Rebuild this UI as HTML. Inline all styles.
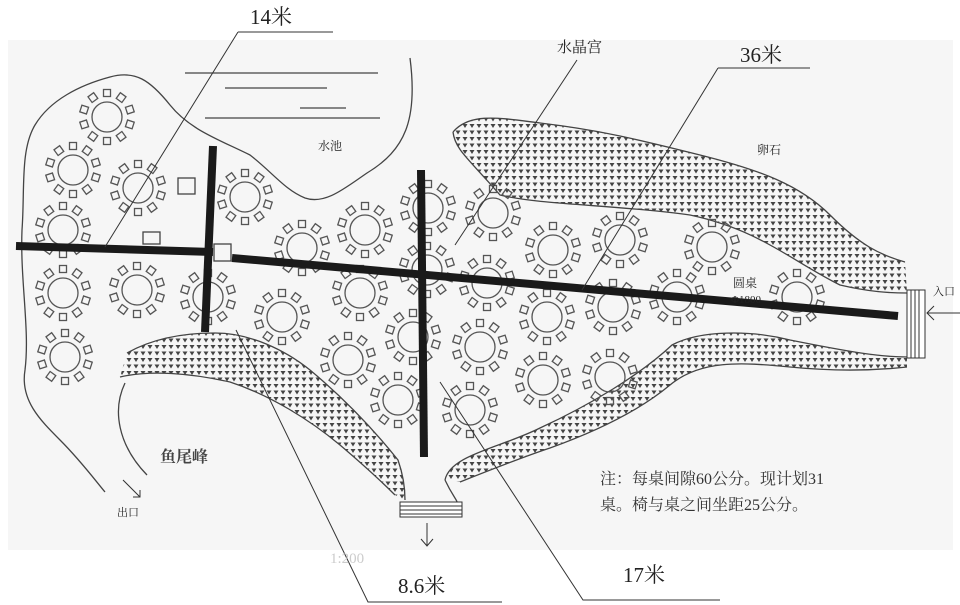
<!DOCTYPE html>
<html><head><meta charset="utf-8"><style>
html,body{margin:0;padding:0;background:#fff;}
svg{display:block;font-family:"Liberation Serif","Noto Serif CJK SC","Noto Sans CJK SC",serif;}
</style></head><body>
<svg width="960" height="605" viewBox="0 0 960 605" xmlns="http://www.w3.org/2000/svg" xmlns:xlink="http://www.w3.org/1999/xlink">
<defs>
<pattern id="dots" width="7" height="6.5" patternUnits="userSpaceOnUse">
<path d="M0.5,0.5 L5.5,0.5 L3,4.5 Z" fill="#444"/>
</pattern>
<g id="t" fill="none" stroke="#555" stroke-width="1.3">
<circle cx="0" cy="0" r="15"/>
<rect x="-3.5" y="20.5" width="7" height="7"/>
<rect x="-3.5" y="20.5" width="7" height="7" transform="rotate(36)"/>
<rect x="-3.5" y="20.5" width="7" height="7" transform="rotate(72)"/>
<rect x="-3.5" y="20.5" width="7" height="7" transform="rotate(108)"/>
<rect x="-3.5" y="20.5" width="7" height="7" transform="rotate(144)"/>
<rect x="-3.5" y="20.5" width="7" height="7" transform="rotate(180)"/>
<rect x="-3.5" y="20.5" width="7" height="7" transform="rotate(216)"/>
<rect x="-3.5" y="20.5" width="7" height="7" transform="rotate(252)"/>
<rect x="-3.5" y="20.5" width="7" height="7" transform="rotate(288)"/>
<rect x="-3.5" y="20.5" width="7" height="7" transform="rotate(324)"/>
</g>
</defs>
<rect x="8" y="40" width="945" height="510" fill="#f6f6f6"/>
<g fill="url(#dots)" stroke="none">
<path d="M453,132 C470,112 500,118 540,123 C600,130 640,140 700,155 C760,170 800,185 830,215 C860,245 880,255 905,262 L907,293 C890,293 870,292 840,285 C790,260 760,230 690,215 C620,205 540,205 500,195 C470,160 455,150 453,132 Z"/>
<path d="M445,480 C450,455 500,448 540,428 C590,405 640,375 672,345 C700,330 750,330 790,340 C850,352 880,357 907,357 L907,367 C880,370 840,372 790,367 C740,362 700,360 670,385 C640,410 600,430 550,448 C520,458 490,470 460,482 Z"/>
<path d="M127,353 C150,340 180,333 215,333 C250,333 285,350 310,370 C340,395 370,425 398,460 C405,480 405,495 405,500 L395,495 C380,480 360,462 340,445 C310,420 270,395 230,382 C190,373 150,370 120,377 Z"/>
</g>
<g fill="none" stroke="#444" stroke-width="1.3">
<path d="M410,58 C418,120 405,150 367,173 C345,188 325,205 305,198 C285,190 272,172 250,155 C220,140 190,130 170,105 C150,80 135,70 110,77 C80,85 50,100 35,125 C20,150 25,190 22,230 C20,280 30,330 25,370 C20,400 40,420 60,440 C80,460 95,480 105,492"/>
<path d="M125,383 C112,410 118,445 147,475"/>
<path d="M453,132 C470,112 500,118 540,123 C600,130 640,140 700,155 C760,170 800,185 830,215 C860,245 880,255 905,262"/>
<path d="M453,132 C455,150 470,160 500,195 C540,205 620,205 690,215 C760,230 790,260 840,285 C870,292 890,293 907,293"/>
<path d="M445,480 C450,455 500,448 540,428 C590,405 640,375 672,345 C700,330 750,330 790,340 C850,352 880,357 907,357"/>
<path d="M460,482 C490,470 520,458 550,448 C600,430 640,410 670,385 C700,360 740,362 790,367 C840,372 880,370 907,367"/>
<path d="M445,480 C452,495 457,500 457,502"/>
<path d="M127,353 C150,340 180,333 215,333 C250,333 285,350 310,370 C340,395 370,425 398,460 C405,480 405,495 405,500"/>
<path d="M120,377 C150,370 190,373 230,382 C270,395 310,420 340,445 C360,462 380,480 395,495"/>
<path d="M185,73 H378 M225,88 H327 M300,108 H346 M205,118 H380"/>
<rect x="178" y="178" width="17" height="16"/>
<rect x="143" y="232" width="17" height="12"/>
<rect x="214" y="244" width="17" height="17"/>
</g>
<use xlink:href="#t" href="#t" x="107" y="117"/>
<use xlink:href="#t" href="#t" x="73" y="170"/>
<use xlink:href="#t" href="#t" x="138" y="188"/>
<use xlink:href="#t" href="#t" x="63" y="230"/>
<use xlink:href="#t" href="#t" x="63" y="293"/>
<use xlink:href="#t" href="#t" x="137" y="290"/>
<use xlink:href="#t" href="#t" x="65" y="357"/>
<use xlink:href="#t" href="#t" x="208" y="297"/>
<use xlink:href="#t" href="#t" x="245" y="197"/>
<use xlink:href="#t" href="#t" x="302" y="248"/>
<use xlink:href="#t" href="#t" x="365" y="230"/>
<use xlink:href="#t" href="#t" x="428" y="208"/>
<use xlink:href="#t" href="#t" x="360" y="293"/>
<use xlink:href="#t" href="#t" x="282" y="317"/>
<use xlink:href="#t" href="#t" x="348" y="360"/>
<use xlink:href="#t" href="#t" x="413" y="337"/>
<use xlink:href="#t" href="#t" x="398" y="400"/>
<use xlink:href="#t" href="#t" x="493" y="213"/>
<use xlink:href="#t" href="#t" x="553" y="250"/>
<use xlink:href="#t" href="#t" x="620" y="240"/>
<use xlink:href="#t" href="#t" x="712" y="247"/>
<use xlink:href="#t" href="#t" x="487" y="283"/>
<use xlink:href="#t" href="#t" x="547" y="317"/>
<use xlink:href="#t" href="#t" x="613" y="307"/>
<use xlink:href="#t" href="#t" x="677" y="297"/>
<use xlink:href="#t" href="#t" x="797" y="297"/>
<use xlink:href="#t" href="#t" x="480" y="347"/>
<use xlink:href="#t" href="#t" x="543" y="380"/>
<use xlink:href="#t" href="#t" x="610" y="377"/>
<use xlink:href="#t" href="#t" x="470" y="410"/>
<use xlink:href="#t" href="#t" x="427" y="270"/>
<g stroke="#1a1a1a" stroke-width="8">
<line x1="16" y1="246" x2="213" y2="252"/>
<line x1="232" y1="258" x2="898" y2="316"/>
<line x1="213" y1="146" x2="205" y2="332"/>
<line x1="421" y1="170" x2="424" y2="457"/>
</g>
<g fill="#fff" stroke="#333" stroke-width="1">
<rect x="907" y="290" width="18" height="68"/>
<path d="M911,290V358 M915,290V358 M919,290V358" fill="none"/>
<rect x="400" y="502" width="62" height="15"/>
<path d="M400,506H462 M400,510H462 M400,514H462" fill="none"/>
</g>
<g stroke="#333" stroke-width="1" fill="none">
<path d="M960,313 H927 M934,306 L927,313 L934,320"/>
<path d="M427,523 V546 M421,539 L427,546 L433,539"/>
<path d="M123,480 L140,497 M133,497 H140 V490"/>
<path d="M238,32 H333 M238,32 L105,247"/>
<path d="M577,60 L455,245"/>
<path d="M718,68 H810 M718,68 L582,290"/>
<path d="M236,330 L368,602 H502"/>
<path d="M440,382 L583,600 H720"/>
</g>
<g fill="#222">
<text x="250" y="24" font-size="21">14米</text>
<text x="557" y="52" font-size="15">水晶宫</text>
<text x="740" y="62" font-size="21">36米</text>
<text x="318" y="150" font-size="12">水池</text>
<text x="757" y="154" font-size="12">卵石</text>
<text x="733" y="287" font-size="12">圆桌</text>
<text x="731" y="303" font-size="11">Φ1800</text>
<text x="933" y="295" font-size="11">入口</text>
<text x="160" y="462" font-size="16" font-weight="bold" fill="#444">鱼尾峰</text>
<text x="117" y="516" font-size="11">出口</text>
<text x="330" y="563" font-size="15" fill="#ccc">1:200</text>
<text x="600" y="484" font-size="16" fill="#333">注：每桌间隙60公分。现计划31</text>
<text x="600" y="510" font-size="16" fill="#333">桌。椅与桌之间坐距25公分。</text>
<text x="398" y="593" font-size="21">8.6米</text>
<text x="623" y="582" font-size="21">17米</text>
</g>
</svg>
</body></html>
